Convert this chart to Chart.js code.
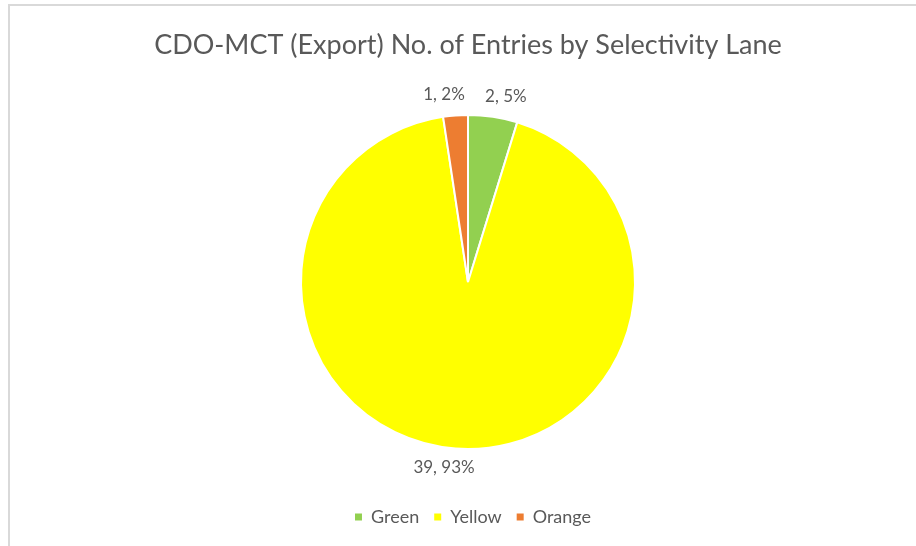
<!DOCTYPE html>
<html>
<head>
<meta charset="utf-8">
<script src="https://cdn.jsdelivr.net/npm/chart.js@4/dist/chart.umd.min.js"></script>
<style>
  html, body { margin: 0; padding: 0; background: #fff; overflow: hidden; }
  #wrap { position: relative; width: 916px; height: 546px; }
  #frame { position: absolute; left: 8px; top: 4px; width: 1000px; height: 600px;
           border-top: 2px solid #d9d9d9; border-left: 2px solid #d9d9d9; pointer-events: none; }
  canvas { position: absolute; left: 0; top: 0; }
</style>
</head>
<body>
<div id="wrap">
  <canvas id="c" width="916" height="546"></canvas>
  <div id="frame"></div>
</div>
<script>
const titleText = "CDO-MCT (Export) No. of Entries by Selectivity Lane";
const categories = ["Green", "Yellow", "Orange"];
const entries = [2, 39, 1];
const percents = [5, 93, 2];
const sliceColors = ["#92D050", "#FFFF00", "#ED7D31"];

const FONT = "Lato, 'Open Sans', sans-serif";
const TEXT = "#595959";

const labelPlugin = {
  id: "sliceLabels",
  afterDatasetsDraw(chart) {
    const ctx = chart.ctx;
    const meta = chart.getDatasetMeta(0);
    ctx.save();
    ctx.font = "17px " + FONT;
    ctx.fillStyle = TEXT;
    ctx.textAlign = "center";
    ctx.textBaseline = "middle";
    meta.data.forEach((arc, i) => {
      const p = arc.getProps(["x", "y", "startAngle", "endAngle", "outerRadius"], true);
      const mid = (p.startAngle + p.endAngle) / 2;
      const d = p.outerRadius + 20;
      const cx = Math.cos(mid);
      const tx = p.x + cx * d + Math.sign(cx) * 10;
      const ty = p.y + Math.sin(mid) * d - 1;
      ctx.fillText(entries[i] + ", " + percents[i] + "%", tx, ty);
    });
    ctx.restore();
  }
};

const chart = new Chart(document.getElementById("c"), {
  type: "pie",
  data: {
    labels: categories,
    datasets: [{
      data: entries,
      backgroundColor: sliceColors,
      borderColor: "#ffffff",
      borderWidth: 2,
      radius: 167
    }]
  },
  options: {
    responsive: false,
    animation: false,
    layout: { padding: { left: 20, right: 0, top: 0, bottom: 10 } },
    plugins: {
      title: {
        display: true,
        text: titleText,
        color: TEXT,
        font: { family: FONT, size: 27, weight: "normal" },
        padding: { top: 29, bottom: 9.6 }
      },
      legend: {
        display: true,
        position: "bottom",
        labels: {
          color: TEXT,
          font: { family: FONT, size: 18 },
          boxWidth: 7,
          boxHeight: 7,
          padding: 15,
          generateLabels(chart) {
            return categories.map((c, i) => ({
              text: c,
              fillStyle: sliceColors[i],
              strokeStyle: sliceColors[i],
              lineWidth: 0,
              fontColor: TEXT,
              hidden: false,
              index: i
            }));
          }
        }
      },
      tooltip: { enabled: false }
    }
  },
  plugins: [labelPlugin]
});

// nudge the legend a few pixels right to match the reference placement
if (chart.legend) {
  const origDraw = chart.legend.draw.bind(chart.legend);
  chart.legend.draw = function (area) {
    const ctx = chart.ctx;
    ctx.save();
    ctx.translate(5, 0);
    origDraw(area);
    ctx.restore();
  };
  chart.draw();
}
</script>
</body>
</html>
